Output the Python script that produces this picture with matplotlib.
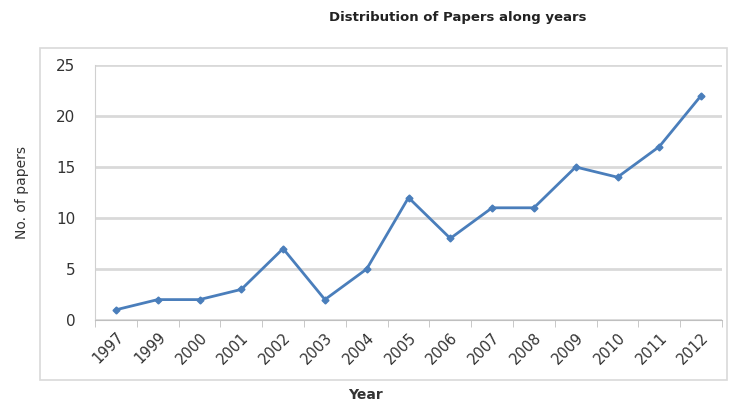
import matplotlib
matplotlib.use("Agg")
import matplotlib.pyplot as plt
from matplotlib.patches import Rectangle
import numpy as np

years = ["1997", "1999", "2000", "2001", "2002", "2003", "2004", "2005",
         "2006", "2007", "2008", "2009", "2010", "2011", "2012"]
papers = [1, 2, 2, 3, 7, 2, 5, 12, 8, 11, 11, 15, 14, 17, 22]

fig = plt.figure(figsize=(7.29, 4.04), dpi=100)
fig.patch.set_facecolor("white")
# outer chart border
fig.add_artist(Rectangle((40/729, 1 - 380/404), (727-40)/729, (380-48)/404,
                         transform=fig.transFigure, fill=False,
                         edgecolor="#d9d9d9", linewidth=1.2))

ax = fig.add_axes([95/729, 1 - 320/404, (722-95)/729, (320-65)/404])
x = np.arange(len(years))
ax.plot(x, papers, color="#4a7ebb", linewidth=2, marker="D", markersize=3.5,
        markerfacecolor="#4a7ebb", markeredgecolor="#4a7ebb")
ax.set_xlim(-0.5, len(years) - 0.5)
ax.set_ylim(0, 25)
ax.set_yticks([0, 5, 10, 15, 20, 25])
ax.yaxis.grid(True, color="#d9d9d9", linewidth=2)
ax.set_axisbelow(True)
ax.set_xticks(x)
ax.set_xticklabels(years, rotation=45, ha="right", rotation_mode="anchor",
                   fontsize=10.5, color="#333333")
ax.set_xticks(np.arange(-0.5, len(years), 1), minor=True)
ax.tick_params(axis="x", which="major", length=0, pad=7)
ax.tick_params(axis="x", which="minor", length=5, color="#bfbfbf")
ax.tick_params(axis="y", length=0, labelsize=11, colors="#333333", pad=14)
for s in ["top", "right"]:
    ax.spines[s].set_visible(False)
ax.spines["left"].set_color("#d0d0d0")
ax.spines["bottom"].set_color("#bfbfbf")
ax.set_ylabel("No. of papers", fontsize=10, color="#333333", labelpad=20)
fig.text(365/729, 1 - 395/404, "Year", ha="center", va="center",
         fontsize=10, fontweight="bold", color="#333333")
fig.text(458/729, 1 - 18/404, "Distribution of Papers along years",
         ha="center", va="center", fontsize=9.5, fontweight="bold", color="#222222")
fig.savefig("out.png", dpi=100)
